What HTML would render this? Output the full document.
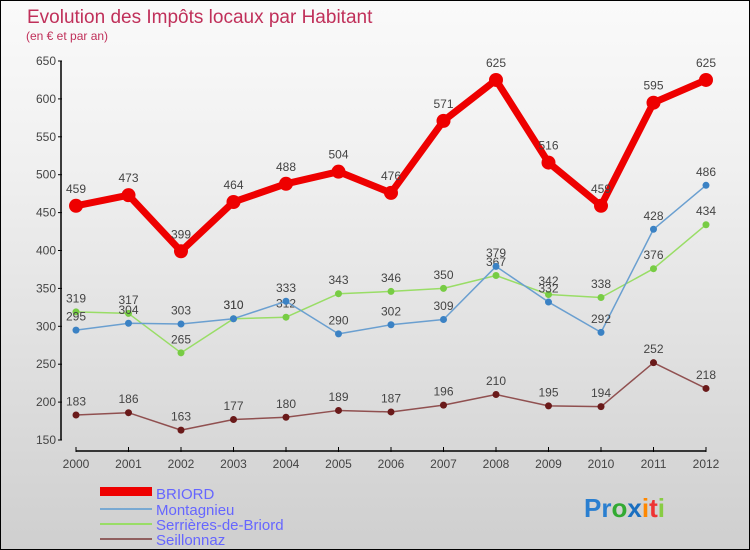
<!DOCTYPE html>
<html><head><meta charset="utf-8"><style>
body{margin:0}
#c{width:748px;height:548px;border:1px solid #000;background:linear-gradient(#fafafa,#f0f0f0 30%,#cfcfcf);position:relative;font-family:"Liberation Sans",sans-serif;overflow:hidden}
</style></head><body>
<div id="c">
<svg id="s" width="748" height="548" xmlns="http://www.w3.org/2000/svg">
<text x="26" y="22" font-size="19" fill="#c0305a">Evolution des Impôts locaux par Habitant</text>
<text x="25" y="39" font-size="12" fill="#c0305a">(en € et par an)</text>
<g id="axes"></g><g id="series"></g>
<g>
<rect x="99" y="486" width="52" height="9" fill="#e00"/>
<text x="155" y="498" font-size="15" fill="#6666ff">BRIORD</text>
<line x1="99" y1="508" x2="151" y2="508" stroke="#79a9d2" stroke-width="2"/>
<text x="155" y="514" font-size="15" fill="#6666ff">Montagnieu</text>
<line x1="99" y1="523" x2="151" y2="523" stroke="#99dd66" stroke-width="2"/>
<text x="155" y="529" font-size="15" fill="#6666ff">Serrières-de-Briord</text>
<line x1="99" y1="538" x2="151" y2="538" stroke="#906060" stroke-width="2"/>
<text x="155" y="544" font-size="15" fill="#6666ff">Seillonnaz</text>
</g>
<g font-size="26" font-weight="bold">
<text x="583" y="516"><tspan fill="#2a7fd0">Pr</tspan><tspan fill="#3a3">o</tspan><tspan fill="#1a6fc0">x</tspan><tspan fill="#f80">i</tspan><tspan fill="#e33">t</tspan><tspan fill="#8c4">i</tspan></text>
</g>
</svg>
</div>
<script>
const years=[2000,2001,2002,2003,2004,2005,2006,2007,2008,2009,2010,2011,2012];
const yTicks=[150,200,250,300,350,400,450,500,550,600,650];
const briord=[459,473,399,464,488,504,476,571,625,516,459,595,625];
const montagnieu=[295,304,303,310,333,290,302,309,379,332,292,428,486];
const serrieres=[319,317,265,310,312,343,346,350,367,342,338,376,434];
const seillonnaz=[183,186,163,177,180,189,187,196,210,195,194,252,218];
const NS="http://www.w3.org/2000/svg";
function X(i){return 75+i*(705-75)/(years.length-1);}
function Y(v){return 439-(v-150)*(439-60)/500;}
function mk(t,a,p){const e=document.createElementNS(NS,t);for(const k in a)e.setAttribute(k,a[k]);p.appendChild(e);return e;}
const ax=document.getElementById('axes');
let e=mk('line',{x1:60,y1:Y(650),x2:60,y2:Y(150),stroke:'#000','stroke-width':1.5},ax);


e=mk('line',{x1:75,y1:450,x2:705,y2:450,stroke:'#000','stroke-width':1.5},ax);


yTicks.forEach(v=>{
 mk('line',{x1:57,y1:Y(v),x2:61,y2:Y(v),stroke:'#000'},ax);
 const t=mk('text',{x:55,y:Y(v)+4,'font-size':12,fill:'#444','text-anchor':'end'},ax);t.textContent=v;
 
 
});
years.forEach((y,i)=>{
 mk('line',{x1:X(i),y1:446,x2:X(i),y2:451,stroke:'#000'},ax);
 const t=mk('text',{x:X(i),y:467,'font-size':12,fill:'#444','text-anchor':'middle'},ax);t.textContent=y;
 
 
});
const sg=document.getElementById('series');
function series(name,data,color,w,r,dot){
 const g=mk('g',{},sg);
 
 
 const p=mk('polyline',{points:data.map((v,i)=>X(i)+','+Y(v)).join(' '),fill:'none',stroke:color,'stroke-width':w,'stroke-linejoin':'round'},g);
 
 
 data.forEach((v,i)=>{
  const c=mk('circle',{cx:X(i),cy:Y(v),r:r,fill:dot},g);
  
  
  const t=mk('text',{x:X(i),y:Y(v)-r-6,'font-size':12,fill:'#444','text-anchor':'middle'},g);t.textContent=v;
  
  
 });
}
series('seillonnaz',seillonnaz,'#905050',1.5,3.5,'#6a1a1a');
series('serrieres',serrieres,'#99dd66',1.5,3.5,'#77cc44');
series('montagnieu',montagnieu,'#6a9fd0',1.5,3.5,'#3b82c4');
series('briord',briord,'#ee0000',7,7,'#ee0000');
</script>
</body></html>
